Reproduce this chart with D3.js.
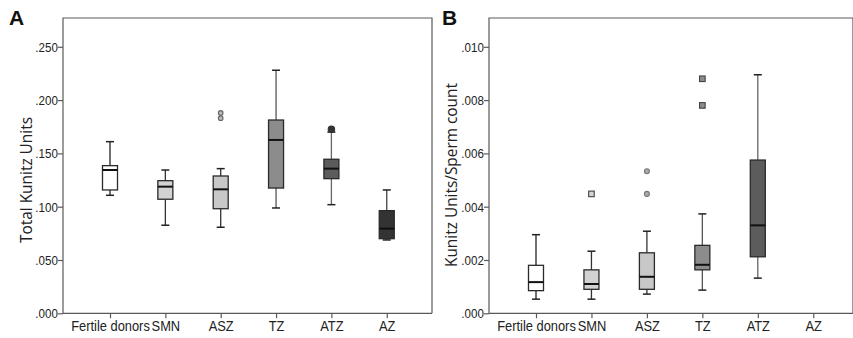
<!DOCTYPE html>
<html>
<head>
<meta charset="utf-8">
<script src="https://cdn.jsdelivr.net/npm/d3@7"></script>
<style>
  body { margin: 0; background: #fff; }
  svg { display: block; font-family: "Open Sans", sans-serif; }
</style>
</head>
<body>
<div id="chart-area"></div>
<script>
// categories shared by both panels
let categories = ["Fertile donors", "SMN", "ASZ", "TZ", "ATZ", "AZ"];

// panel A: Total Kunitz Units
let aTicks = [0, 0.05, 0.10, 0.15, 0.20, 0.25];
let aLow    = [0.1107, 0.0826, 0.0807, 0.0988, 0.1019, 0.0688];
let aQ1     = [0.1157, 0.1070, 0.0981, 0.1175, 0.1263, 0.0700];
let aMedian = [0.1344, 0.1188, 0.1163, 0.1626, 0.1357, 0.0794];
let aQ3     = [0.1385, 0.1244, 0.1288, 0.1813, 0.1445, 0.0963];
let aHigh   = [0.1610, 0.1344, 0.1357, 0.2280, 0.1700, 0.1157];
let aOut    = [[], [], [0.1880, 0.1830], [], [0.1726], []];

// panel B: Kunitz Units/Sperm count (no AZ data)
let bTicks = [0, 0.002, 0.004, 0.006, 0.008, 0.010];
let bLow    = [0.00053, 0.00053, 0.00072, 0.00087, 0.00132, null];
let bQ1     = [0.00085, 0.00090, 0.00090, 0.00163, 0.00212, null];
let bMedian = [0.00117, 0.00110, 0.00137, 0.00182, 0.00330, null];
let bQ3     = [0.00180, 0.00163, 0.00227, 0.00255, 0.00575, null];
let bHigh   = [0.00295, 0.00233, 0.00308, 0.00373, 0.00895, null];
let bOut    = [[], [0.00448], [0.00533, 0.00448], [0.0088, 0.0078], [], []];

let fills = ["#ffffff", "#d2d2d2", "#c8c8c8", "#8c8c8c", "#5c5c5c", "#333333"];
let whiskerColors = ["#222", "#333", "#333", "#555", "#666", "#444"];

let W = 853, H = 338;
let svg = d3.select("#chart-area").append("svg")
    .attr("width", W).attr("height", H);

function drawPanel(opt) {
  let top = 18, bottom = 313.3;
  let y = d3.scaleLinear().domain([0, opt.yMax]).range([bottom, top]);
  let x = d3.scalePoint().domain(categories)
      .range([opt.left + opt.firstOffset, opt.left + opt.firstOffset + 5 * opt.step]);

  let g = svg.append("g");

  // frame (left, top, right)
  g.append("path")
    .attr("d", "M" + opt.left + "," + bottom + "V" + top + "H" + opt.right + "V" + bottom)
    .attr("fill", "none").attr("stroke", "#5a5a5a").attr("stroke-width", 1.2);

  let yAxis = d3.axisLeft(y).tickValues(opt.ticks).tickSize(5).tickPadding(1)
      .tickFormat(function(d){ return d3.format(".3f")(d).replace(/^0/, ""); });
  let ya = g.append("g").attr("transform", "translate(" + opt.left + ",0)").call(yAxis);
  ya.select(".domain").remove();
  ya.selectAll("line").attr("stroke", "#5a5a5a").attr("stroke-width", 1.2);
  ya.selectAll("text").attr("font-size", "13.5px").attr("fill", "#222")
    .attr("transform", "scale(0.86,1)");

  let xAxis = d3.axisBottom(x).tickSize(5).tickPadding(3);
  let xa = g.append("g").attr("transform", "translate(0," + bottom + ")").call(xAxis);
  xa.select(".domain").attr("d", "M" + opt.left + ",0H" + opt.right)
    .attr("stroke", "#5a5a5a").attr("stroke-width", 1.2);
  xa.selectAll("line").attr("stroke", "#5a5a5a").attr("stroke-width", 1.2);
  xa.selectAll("text").attr("font-size", "14px").attr("fill", "#222")
    .attr("transform", "scale(0.92,1)");

  // y title
  g.append("text")
    .attr("transform", "translate(" + opt.titleX + "," + opt.titleY + ") rotate(-90)")
    .attr("text-anchor", "middle")
    .attr("font-size", "17px").attr("fill", "#222")
    .attr("textLength", opt.titleLen).attr("lengthAdjust", "spacingAndGlyphs")
    .text(opt.title);

  // panel letter
  g.append("text").attr("x", opt.letterX).attr("y", 25)
    .attr("font-family", "'Liberation Sans', Arial, sans-serif")
    .attr("font-weight", "bold").attr("font-size", "21px").attr("fill", "#111")
    .text(opt.letter);

  let bw = 15, cap = 8;
  let rows = categories.map(function(c, i) {
    return {cat: c, i: i, low: opt.low[i], q1: opt.q1[i], med: opt.med[i],
            q3: opt.q3[i], high: opt.high[i], out: opt.out[i]};
  }).filter(function(d){ return d.med != null; });

  let box = g.selectAll(".box").data(rows).enter().append("g").attr("class", "box");

  // whiskers
  box.append("line")
    .attr("x1", function(d){ return x(d.cat); }).attr("x2", function(d){ return x(d.cat); })
    .attr("y1", function(d){ return y(d.high); }).attr("y2", function(d){ return y(d.q3); })
    .attr("stroke", function(d){ return whiskerColors[d.i]; }).attr("stroke-width", 1.3);
  box.append("line")
    .attr("x1", function(d){ return x(d.cat); }).attr("x2", function(d){ return x(d.cat); })
    .attr("y1", function(d){ return y(d.q1); }).attr("y2", function(d){ return y(d.low); })
    .attr("stroke", function(d){ return whiskerColors[d.i]; }).attr("stroke-width", 1.3);
  box.append("line")
    .attr("x1", function(d){ return x(d.cat) - cap / 2; }).attr("x2", function(d){ return x(d.cat) + cap / 2; })
    .attr("y1", function(d){ return y(d.high); }).attr("y2", function(d){ return y(d.high); })
    .attr("stroke", "#222").attr("stroke-width", 1.5);
  box.append("line")
    .attr("x1", function(d){ return x(d.cat) - cap / 2; }).attr("x2", function(d){ return x(d.cat) + cap / 2; })
    .attr("y1", function(d){ return y(d.low); }).attr("y2", function(d){ return y(d.low); })
    .attr("stroke", "#222").attr("stroke-width", 1.5);

  // boxes
  box.append("rect")
    .attr("x", function(d){ return x(d.cat) - bw / 2; })
    .attr("y", function(d){ return y(d.q3); })
    .attr("width", bw)
    .attr("height", function(d){ return y(d.q1) - y(d.q3); })
    .attr("fill", function(d){ return fills[d.i]; })
    .attr("stroke", "#2a2a2a").attr("stroke-width", 1.3);

  // medians
  box.append("line")
    .attr("x1", function(d){ return x(d.cat) - bw / 2; }).attr("x2", function(d){ return x(d.cat) + bw / 2; })
    .attr("y1", function(d){ return y(d.med); }).attr("y2", function(d){ return y(d.med); })
    .attr("stroke", "#111").attr("stroke-width", 2);

  // outliers
  rows.forEach(function(d) {
    d.out.forEach(function(v) {
      if (opt.outShape[d.i] === "square") {
        g.append("rect")
          .attr("x", x(d.cat) - 2.8).attr("y", y(v) - 2.8)
          .attr("width", 5.6).attr("height", 5.6)
          .attr("fill", opt.outFill[d.i]).attr("stroke", "#444").attr("stroke-width", 1.1);
      } else {
        g.append("circle")
          .attr("cx", x(d.cat)).attr("cy", y(v)).attr("r", opt.outR[d.i])
          .attr("fill", opt.outFill[d.i]).attr("stroke", opt.outStroke[d.i]).attr("stroke-width", 1.1);
      }
    });
  });
}

drawPanel({
  left: 63, right: 432, firstOffset: 47, step: 55.35, yMax: 0.277,
  ticks: aTicks, title: "Total Kunitz Units", titleX: 31.5, titleY: 180, titleLen: 126,
  letter: "A", letterX: 9,
  low: aLow, q1: aQ1, med: aMedian, q3: aQ3, high: aHigh, out: aOut,
  outShape: ["circle", "circle", "circle", "circle", "circle", "circle"],
  outFill: ["none", "none", "#bbb", "none", "#333", "none"],
  outStroke: ["#555", "#555", "#666", "#555", "#333", "#555"],
  outR: [2.5, 2.5, 2.3, 2.5, 3.2, 2.5]
});

drawPanel({
  left: 489, right: 853, firstOffset: 47, step: 55.45, yMax: 0.01108,
  ticks: bTicks, title: "Kunitz Units/Sperm count", titleX: 456.5, titleY: 175, titleLen: 184,
  letter: "B", letterX: 442,
  low: bLow, q1: bQ1, med: bMedian, q3: bQ3, high: bHigh, out: bOut,
  outShape: ["circle", "square", "circle", "square", "circle", "circle"],
  outFill: ["none", "#d2d2d2", "#aaa", "#8c8c8c", "none", "none"],
  outStroke: ["#555", "#555", "#777", "#555", "#555", "#555"],
  outR: [2.5, 2.5, 2.5, 2.5, 2.5, 2.5]
});
</script>
</body>
</html>
